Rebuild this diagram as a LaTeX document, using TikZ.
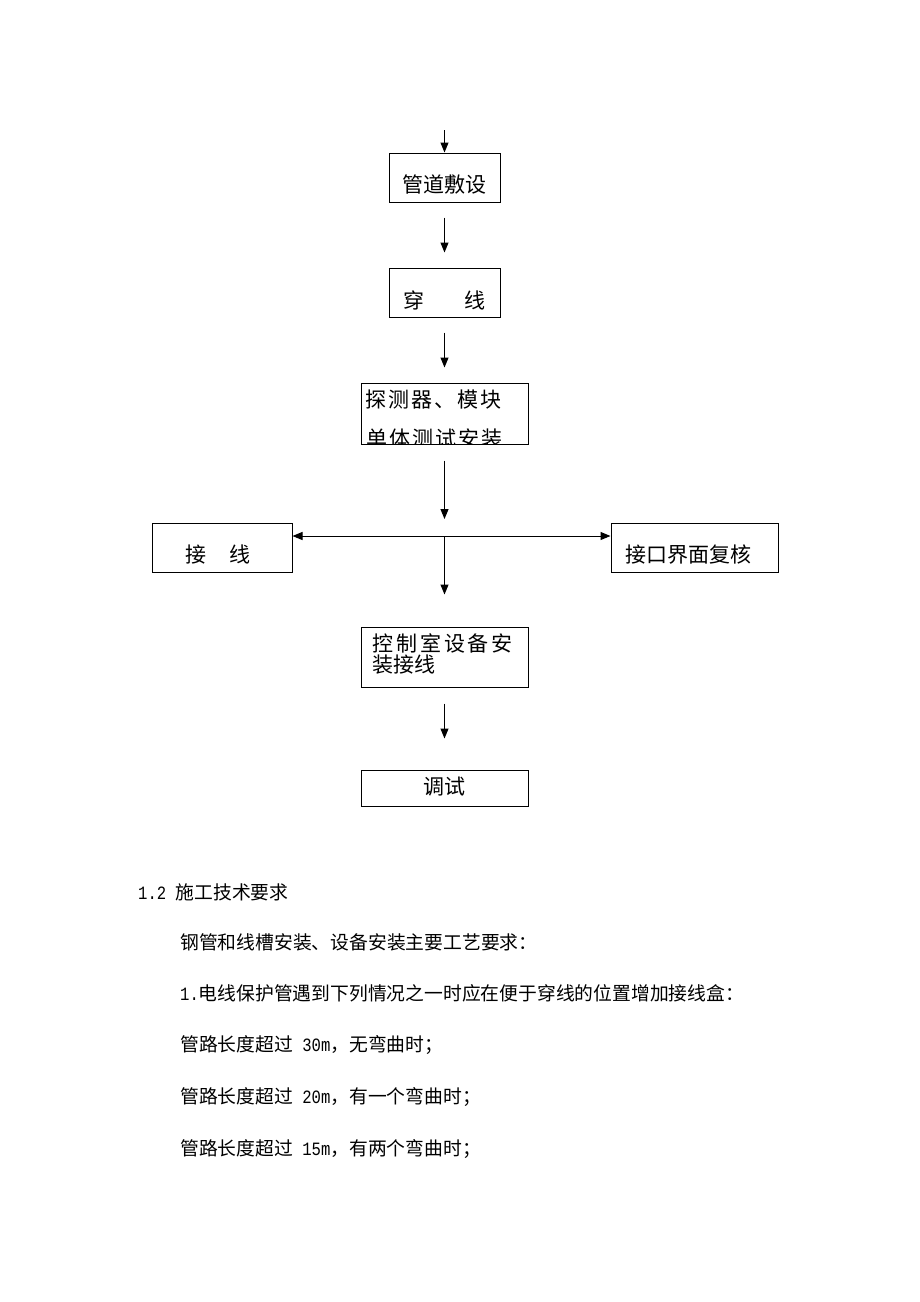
\documentclass[tikz,border=0pt]{standalone}
\usepackage{fontspec}
\setmainfont{Noto Sans CJK SC}
\newfontfamily\halfwidth[FakeStretch=0.83]{Liberation Mono}
\usetikzlibrary{calc,positioning,arrows.meta}
\tikzset{
  box/.style={draw,line width=1pt,inner sep=0pt},
  flow/.style={line width=1pt,-{Triangle[length=10pt,width=8pt]}},
  boxtext/.style={inner sep=0pt,font=\fontsize{21}{25}\selectfont},
  bodytext/.style={anchor=west,inner sep=0pt,font=\fontsize{18.8}{22}\selectfont}
}

\begin{document}
\begin{tikzpicture}[x=1pt,y=-1pt]
\useasboundingbox (0,0) rectangle (920,1302);

\node[box,minimum width=111pt,minimum height=49pt] (pipe) at (444.5,177.5) {};
\node[box,minimum width=111pt,minimum height=49pt] (thread) at (444.5,292.5) {};
\node[box,minimum width=167pt,minimum height=61pt] (detect) at (444.5,413.5) {};
\node[box,minimum width=140pt,minimum height=49pt] (wiring) at (222,547.5) {};
\node[box,minimum width=167pt,minimum height=49pt] (iface) at (694.5,547.5) {};
\node[box,minimum width=167pt,minimum height=60pt] (ctrl) at (444.5,657) {};
\node[box,minimum width=167pt,minimum height=36pt] (debug) at (444.5,788) {};

\node[boxtext] (pipetxt) at (444.5,185) {管道敷设};
\node[boxtext] (threadtxt) at (444.5,300) {穿\hspace{41pt}线};
\node[boxtext,font=\fontsize{21}{25}\selectfont\addfontfeature{LetterSpace=9}] (detecttxt) at (433.5,400) {探测器、模块};
\begin{scope}
\clip (detect.south west) rectangle (detect.north east);
\node[boxtext,font=\fontsize{21}{25}\selectfont\addfontfeature{LetterSpace=9}] (detecttxtb) at (434.5,439) {单体测试安装};
\end{scope}
\node[boxtext] (wiringtxt) at (218,555) {接\hspace{23pt}线};
\node[boxtext] (ifacetxt) at (688,555) {接口界面复核};
\node[boxtext,anchor=west,font=\fontsize{21}{25}\selectfont\addfontfeature{LetterSpace=14}] (ctrltxt) at (372,643) {控制室设备安};
\node[boxtext,anchor=west] (ctrltxtb) at (372,665) {装接线};
\node[boxtext] (debugtxt) at (444.5,787) {调试};

\coordinate (top) at (444.5,130);
\coordinate (hub) at (444.5,536);
\draw[flow] (top) -- (pipe);
\draw[flow,shorten <=15pt,shorten >=15pt] (pipe) -- (thread);
\draw[flow,shorten <=15pt,shorten >=15pt] (thread) -- (detect);
\draw[flow,shorten <=16pt,shorten >=17pt] (detect) -- (hub);
\draw[flow] (hub) -- (hub -| wiring.east);
\draw[flow] (hub) -- (hub -| iface.west);
\draw[flow,shorten >=32pt] (hub) -- (ctrl);
\draw[flow,shorten <=16pt,shorten >=31pt] (ctrl) -- (debug);

\node[bodytext] (sec) at (138,892) {{\halfwidth 1.2 }施工技术要求};
\node[bodytext] (req) at (180,942) {钢管和线槽安装、设备安装主要工艺要求：};
\node[bodytext] (item) at (180,993) {{\halfwidth 1.}电线保护管遇到下列情况之一时应在便于穿线的位置增加接线盒：};
\node[bodytext] (len1) at (180,1045) {管路长度超过{\halfwidth\ 30m}，无弯曲时；};
\node[bodytext] (len2) at (180,1097) {管路长度超过{\halfwidth\ 20m}，有一个弯曲时；};
\node[bodytext] (len3) at (180,1149) {管路长度超过{\halfwidth\ 15m}，有两个弯曲时；};
\end{tikzpicture}
\end{document}
